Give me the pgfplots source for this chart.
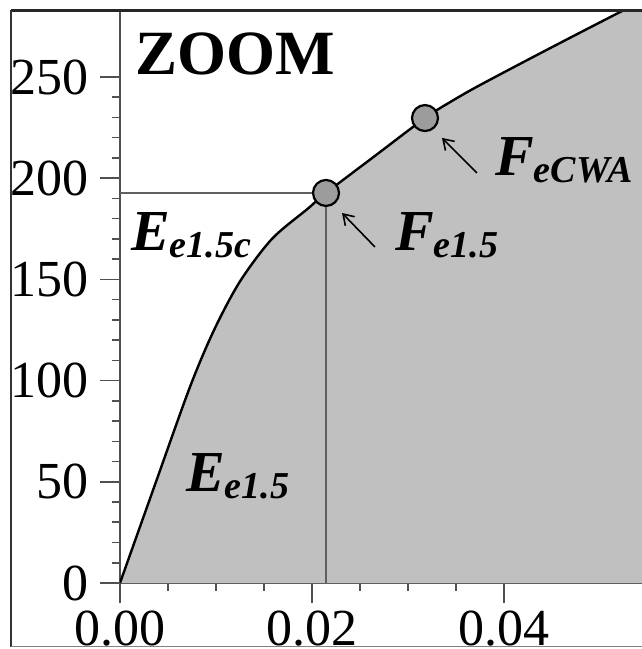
\documentclass[border=0pt]{standalone}
\usepackage{fontspec}
\setmainfont{Liberation Serif}
\usepackage{pgfplots}
\pgfplotsset{compat=1.18}
\usetikzlibrary{arrows.meta}

\definecolor{areagray}{HTML}{C0C0C0}
\definecolor{dotgray}{HTML}{9C9C9C}
\definecolor{axisgray}{HTML}{505050}
\definecolor{guidegray}{HTML}{606060}

% bold italic symbol with a lowered subscript
\newcommand{\lab}[2]{{\fontsize{58}{58}\selectfont\bfseries\itshape #1\raisebox{-7pt}{\fontsize{38}{38}\selectfont #2}}}

\pgfplotstableread{
x y
0 0
0.00375 50
0.0073 97
0.0098 125
0.0125 149
0.01583 170
0.01958 185
0.02146 192.7
0.0265 210.8
0.03177 229.7
0.0345 237.9
0.0375 246.0
0.0445 263.5
0.0521 282.1
0.0563 292
}\curve

\begin{document}
\begin{tikzpicture}
\begin{axis}[
  at={(120pt,66pt)}, anchor=south west,
  scale only axis, width=528pt, height=570.8pt,
  xmin=0, xmax=0.055, ymin=0, ymax=282,
  axis lines=left, axis line style={-, axisgray, line width=1.6pt},
  tick align=outside, major tick length=20pt, minor tick length=8pt,
  every tick/.style={axisgray, line width=1.6pt},
  xtick={0,0.02,0.04}, ytick={0,50,100,150,200,250},
  minor x tick num=3, minor y tick num=4,
  ticklabel style={font=\fontsize{52}{52}\selectfont},
  yticklabel style={xshift=-8pt},
  xticklabel style={yshift=-4pt, /pgf/number format/fixed, /pgf/number format/fixed zerofill, /pgf/number format/precision=2},
  /pgf/number format/assume math mode=true,
  scaled x ticks=false,
]
% area under the stress-strain curve
\addplot[fill=areagray, draw=none, smooth] table {\curve} \closedcycle;
% guide lines to the first point
\addplot[guidegray, line width=1.5pt] coordinates {(0,192.7) (0.02146,192.7) (0.02146,0)};
% the curve itself
\addplot[black, line width=2.4pt, smooth] table {\curve};
% characteristic points
\addplot[only marks, mark=*, mark size=13pt, mark options={fill=dotgray, draw=black, line width=2.2pt}]
  coordinates {(0.02146,192.7) (0.03177,229.7)};

\draw[-{Straight Barb[length=10pt,width=13pt]}, line width=1.6pt] (axis cs:0.02656,166.0) -- (axis cs:0.02313,182.8);
\draw[-{Straight Barb[length=10pt,width=13pt]}, line width=1.6pt] (axis cs:0.03719,202.6) -- (axis cs:0.03354,219.9);

\node[anchor=base west, inner sep=0pt, font=\fontsize{63}{63}\selectfont\bfseries] at (axis cs:0.00156,251) {ZOOM};
\node[anchor=base west, inner sep=0pt] at (axis cs:0.00115,164.5) {\lab{E}{e1.5c}};
\node[anchor=base west, inner sep=0pt] at (axis cs:0.00688,45.0) {\lab{E}{e1.5}};
\node[anchor=base west, inner sep=0pt] at (axis cs:0.02865,164.5) {\lab{F}{e1.5}};
\node[anchor=base west, inner sep=0pt] at (axis cs:0.03906,201.1) {\lab{F}{eCWA}};
\end{axis}
% outer frame
\draw[black!85, line width=3pt] (11pt,638.5pt) -- (700pt,638.5pt);
\draw[black!80, line width=2pt] (11pt,639pt) -- (11pt,2pt);
\draw[gray, line width=1pt] (11pt,2pt) -- (700pt,2pt);
\pgfresetboundingbox
\useasboundingbox (0,0) rectangle (641pt,649pt);
\end{tikzpicture}
\end{document}
